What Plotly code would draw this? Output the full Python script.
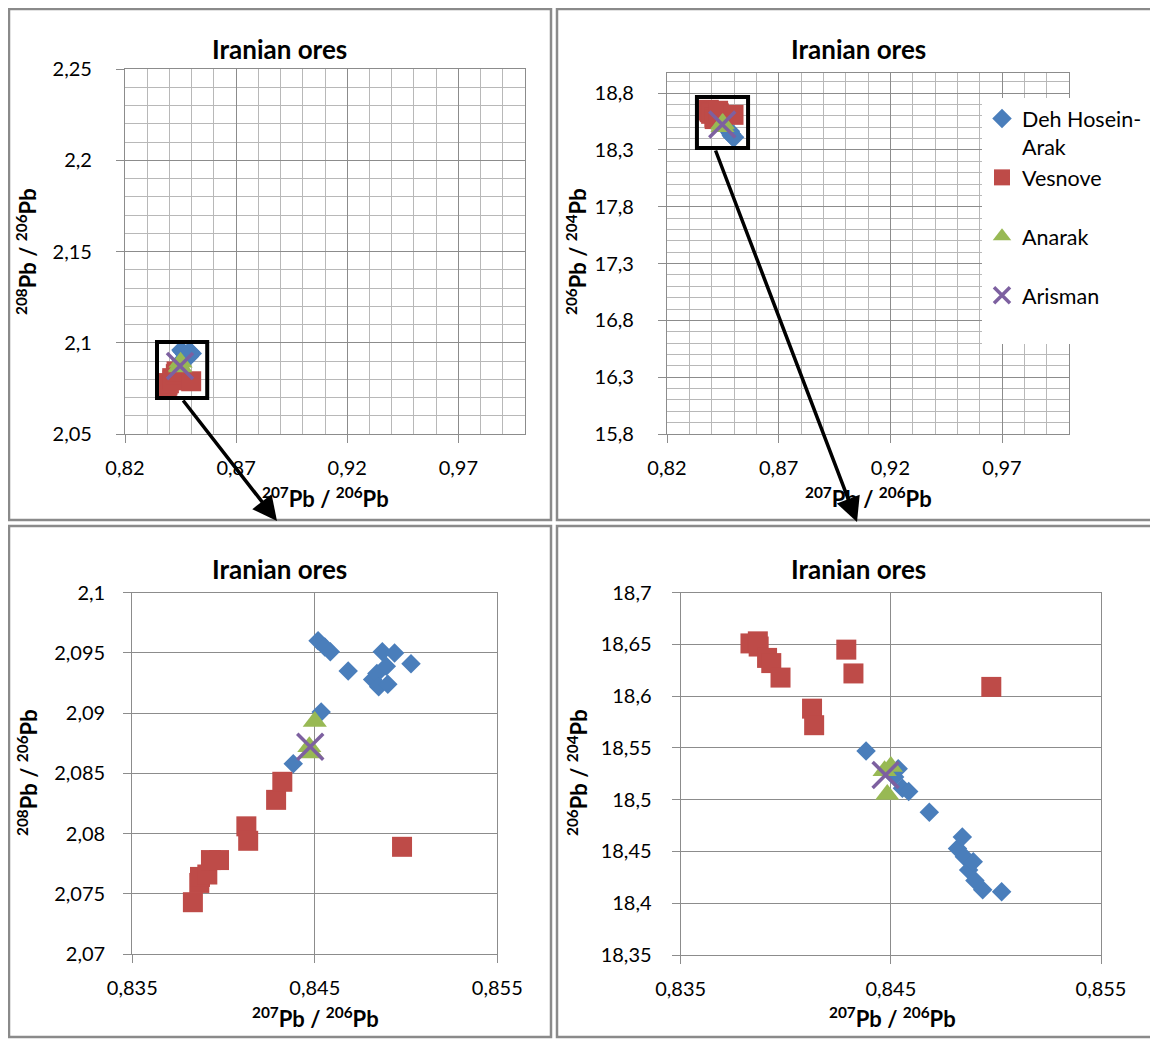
import plotly.graph_objects as go

# The page body adds an 8 px margin, so the figure is drawn 8 px smaller and
# all reference pixel positions are shifted by that offset.
OFF = 8
W, H = 1158 - OFF, 1039 - OFF

# ---------------- data ----------------
series_names = ["Deh Hosein-<br>Arak", "Vesnove<br> ", "Anarak<br> ", "Arisman<br> "]

deh_207_206 = [0.84382, 0.84535, 0.84518, 0.84555, 0.84585, 0.84683, 0.84817,
               0.84840, 0.84850, 0.84870, 0.84892, 0.84900, 0.84937, 0.85027]
deh_208_206 = [2.0858, 2.0901, 2.0960, 2.0955, 2.0951, 2.0935, 2.0928,
               2.0933, 2.0922, 2.0951, 2.0939, 2.0924, 2.0950, 2.0941]
deh_206_204 = [18.547, 18.530, 18.522, 18.511, 18.508, 18.488, 18.453,
               18.464, 18.445, 18.432, 18.440, 18.422, 18.413, 18.411]

ves_207_206 = [0.83832, 0.83867, 0.83871, 0.83911, 0.83931, 0.83975,
               0.84125, 0.84135, 0.84288, 0.84322, 0.84978]
ves_208_206 = [2.0743, 2.0759, 2.0764, 2.0766, 2.0778, 2.0778,
               2.0806, 2.0794, 2.0828, 2.0843, 2.0789]
ves_206_204 = [18.651, 18.653, 18.648, 18.637, 18.632, 18.618,
               18.588, 18.572, 18.645, 18.622, 18.609]

ana_207_206 = [0.84500, 0.84470, 0.84483]
ana_208_206 = [2.0893, 2.0872, 2.0867]
ana_206_204 = [18.532, 18.528, 18.505]

ari_207_206 = [0.84475]
ari_208_206 = [2.0872]
ari_206_204 = [18.524]

# ---------------- styling ----------------
FONT = "Lato"
BLUE, RED, GREEN, PURPLE = "#4A7EBB", "#BE4B48", "#98B954", "#7D60A0"
GRID_MAJOR = "#8c8c8c"
GRID_MINOR = "#b8b8b8"
FRAME = "#8a8a8a"


def pxx(p):
    return (p - OFF) / W


def pxy(p):
    return 1 - (p - OFF) / H


marker_styles = [
    dict(symbol="diamond", size=15, color=BLUE),
    dict(symbol="square", size=20, color=RED),
    dict(symbol="triangle-up", size=21, color=GREEN),
    dict(symbol="x-thin", size=26, color=PURPLE, line=dict(width=3.5, color=PURPLE)),
]

x_series = [deh_207_206, ves_207_206, ana_207_206, ari_207_206]
y208_series = [deh_208_206, ves_208_206, ana_208_206, ari_208_206]
y204_series = [deh_206_204, ves_206_204, ana_206_204, ari_206_204]

fig = go.Figure()

panel_defs = [
    ("x", "y", y208_series, False),
    ("x2", "y2", y204_series, True),
    ("x3", "y3", y208_series, False),
    ("x4", "y4", y204_series, False),
]

for xa, ya, ydata, show_leg in panel_defs:
    for i in range(4):
        fig.add_trace(go.Scatter(
            x=x_series[i], y=ydata[i], mode="markers",
            name=series_names[i], marker=marker_styles[i],
            xaxis=xa, yaxis=ya, showlegend=show_leg, cliponaxis=False,
        ))


def axis(dom, rng, tick0, dtick, minor, standoff, anchor):
    d = dict(
        domain=dom, range=rng, tickmode="linear", tick0=tick0, dtick=dtick,
        anchor=anchor, automargin=False,
        showgrid=True, gridcolor=GRID_MAJOR, gridwidth=1,
        showline=True, linecolor=GRID_MAJOR, linewidth=1.2, mirror=True,
        ticks="outside", ticklen=8, tickcolor=GRID_MAJOR, tickwidth=1,
        tickfont=dict(family=FONT, size=20, color="#000000"),
        zeroline=False, fixedrange=True, ticklabelstandoff=standoff,
    )
    if minor:
        d["minor"] = dict(dtick=minor, tick0=tick0, showgrid=True,
                          gridcolor=GRID_MINOR, gridwidth=1, ticks="")
    return d


fig.update_layout(
    template="none",
    width=W, height=H, margin=dict(l=0, r=0, t=0, b=0, pad=0, autoexpand=False),
    paper_bgcolor="white", plot_bgcolor="white",
    separators=", ",
    font=dict(family=FONT, color="#000000"),
    showlegend=True,
    legend=dict(x=pxx(982), y=pxy(98), xanchor="left", yanchor="top",
                bgcolor="white", borderwidth=0, valign="top",
                itemsizing="trace", tracegroupgap=0,
                font=dict(family=FONT, size=21.5, color="#000000")),
    xaxis=axis([pxx(125), pxx(525)], [0.82, 1.0], 0.82, 0.05, 0.01, 8, "y"),
    yaxis=axis([pxy(434), pxy(69)], [2.05, 2.25], 2.05, 0.05, 0.01, 20, "x"),
    xaxis2=axis([pxx(667), pxx(1069)], [0.82, 1.0], 0.82, 0.05, 0.01, 8, "y2"),
    yaxis2=axis([pxy(434), pxy(72.7)], [15.8, 18.98], 15.8, 0.5, 0.1, 20, "x2"),
    xaxis3=axis([pxx(132.3), pxx(497.3)], [0.835, 0.855], 0.835, 0.01, None, 8, "y3"),
    yaxis3=axis([pxy(954), pxy(592.7)], [2.07, 2.1], 2.07, 0.005, None, 14, "x3"),
    xaxis4=axis([pxx(680.7), pxx(1101)], [0.835, 0.855], 0.835, 0.01, None, 8, "y4"),
    yaxis4=axis([pxy(955), pxy(592.7)], [18.35, 18.7], 18.35, 0.05, None, 16, "x4"),
)

# panel frames
shapes = []
for (x0, y0, x1, y1) in [(9, 9, 551, 520), (557, 9, 1153, 520),
                         (9, 526, 551, 1037), (557, 526, 1153, 1037)]:
    shapes.append(dict(type="rect", xref="paper", yref="paper",
                       x0=pxx(x0), x1=pxx(x1), y0=pxy(y1), y1=pxy(y0),
                       line=dict(color=FRAME, width=2.5), layer="above"))
# zoom boxes on the overview charts
shapes.append(dict(type="rect", xref="x", yref="y", x0=0.8344, x1=0.857,
                   y0=2.0697, y1=2.1004, line=dict(color="black", width=4),
                   layer="above"))
shapes.append(dict(type="rect", xref="x2", yref="y2", x0=0.8334, x1=0.8563,
                   y0=18.318, y1=18.767, line=dict(color="black", width=4),
                   layer="above"))

annotations = []
title_font = dict(family=FONT, size=26, color="#000000")
for cx, cy in [(279, 49), (858, 49), (279, 569), (858, 569)]:
    annotations.append(dict(text="<b>Iranian ores</b>", x=pxx(cx), y=pxy(cy),
                            xref="paper", yref="paper", showarrow=False,
                            xanchor="center", yanchor="middle", font=title_font))

axis_font = dict(family=FONT, size=22, color="#000000")
xt = "<b><sup>207</sup>Pb / <sup>206</sup>Pb</b>"
for cx, cy in [(325, 497), (868, 497), (315, 1017), (892, 1017)]:
    annotations.append(dict(text=xt, x=pxx(cx), y=pxy(cy), xref="paper",
                            yref="paper", showarrow=False, xanchor="center",
                            yanchor="middle", font=axis_font))
for txt, cx, cy in [("<b><sup>208</sup>Pb / <sup>206</sup>Pb</b>", 27, 252),
                    ("<b><sup>206</sup>Pb / <sup>204</sup>Pb</b>", 577, 252),
                    ("<b><sup>208</sup>Pb / <sup>206</sup>Pb</b>", 27, 773),
                    ("<b><sup>206</sup>Pb / <sup>204</sup>Pb</b>", 577, 773)]:
    annotations.append(dict(text=txt, x=pxx(cx), y=pxy(cy), xref="paper",
                            yref="paper", showarrow=False, textangle=-90,
                            xanchor="center", yanchor="middle", font=axis_font))

# arrows from the overview boxes to the zoomed charts
for (tx, ty, sx, sy) in [(277, 521, 182, 399), (857, 522, 715, 149)]:
    annotations.append(dict(text="", x=pxx(tx), y=pxy(ty), xref="paper",
                            yref="paper", ax=sx - tx, ay=sy - ty,
                            showarrow=True, arrowhead=2, arrowsize=1.4,
                            arrowwidth=3.5, arrowcolor="black",
                            font=dict(size=1)))

fig.update_layout(shapes=shapes, annotations=annotations)

fig.write_html("out.html")
